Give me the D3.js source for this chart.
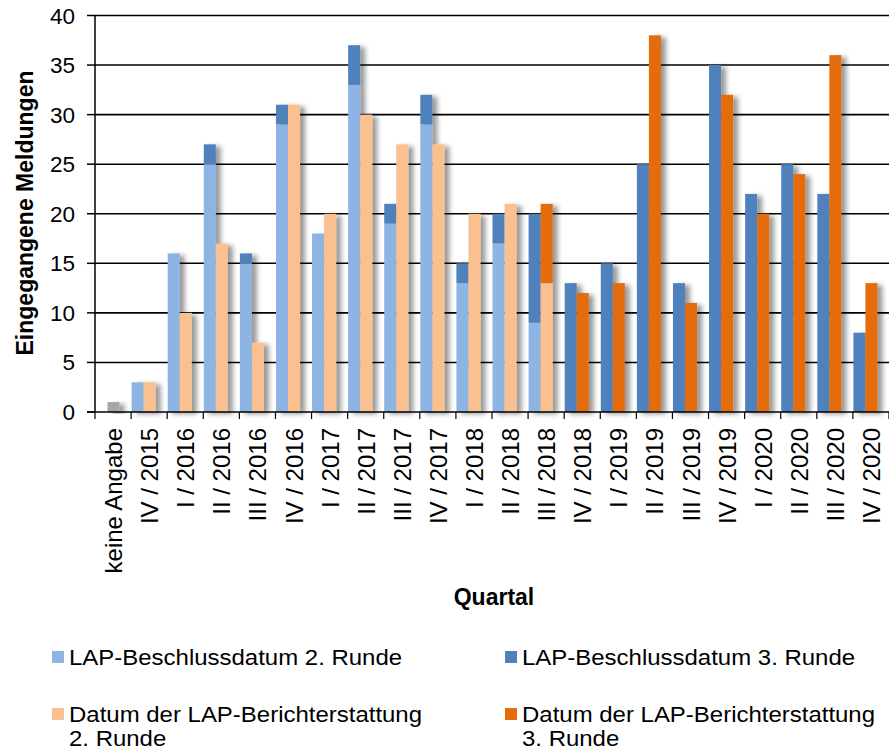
<!DOCTYPE html>
<html><head><meta charset="utf-8">
<script src="https://cdn.jsdelivr.net/npm/d3@7"></script>
<style>body{margin:0;background:#fff}svg{display:block}text{font-family:"Liberation Sans",Arial,sans-serif;fill:#000}</style>
</head><body><div id="chart"></div>
<script>
const categories = ["keine Angabe","IV / 2015","I / 2016","II / 2016","III / 2016","IV / 2016","I / 2017","II / 2017","III / 2017","IV / 2017","I / 2018","II / 2018","III / 2018","IV / 2018","I / 2019","II / 2019","III / 2019","IV / 2019","I / 2020","II / 2020","III / 2020","IV / 2020"];
const keineAngabe   = [1,0,0,0,0,0,0,0,0,0,0,0,0,0,0,0,0,0,0,0,0,0];
const beschluss2    = [0,3,16,25,15,29,18,33,19,29,13,17,9,0,0,0,0,0,0,0,0,0];
const beschluss3    = [0,0,0,2,1,2,0,4,2,3,2,3,11,13,15,25,13,35,22,25,22,8];
const bericht2      = [0,3,10,17,7,31,20,30,27,27,20,21,13,0,0,0,0,0,0,0,0,0];
const bericht3      = [0,0,0,0,0,0,0,0,0,0,0,0,8,12,13,38,11,32,20,24,36,13];
const yTicks = [0,5,10,15,20,25,30,35,40];
const seriesNames = ["LAP-Beschlussdatum 2. Runde","LAP-Beschlussdatum 3. Runde","Datum der LAP-Berichterstattung 2. Runde","Datum der LAP-Berichterstattung 3. Runde"];
const colors = {b2:"#8EB4E3", b3:"#4F81BD", r2:"#FAC090", r3:"#E46C0A", ka:"#A6A6A6"};

const W=889,H=751;
const svg=d3.select("#chart").append("svg").attr("width",W).attr("height",H);
const defs=svg.append("defs");
const f=defs.append("filter").attr("id","sh").attr("x","-20%").attr("y","-10%").attr("width","200%").attr("height","130%");
f.append("feDropShadow").attr("dx",5).attr("dy",2).attr("stdDeviation",2.5).attr("flood-color","#000").attr("flood-opacity",0.4);

const x=d3.scaleBand().domain(categories).range([95,889]).padding(0);
const y=d3.scaleLinear().domain([0,40]).range([412,15.5]);
const bw=x.bandwidth()/3;

// gridlines
svg.append("g").selectAll("line").data(yTicks.filter(d=>d>0)).join("line")
 .attr("x1",95).attr("x2",W).attr("y1",d=>y(d)).attr("y2",d=>y(d))
 .attr("stroke","#000").attr("stroke-width",1.6);

// bars
const bars=svg.append("g");
function stack(slot,parts){
  categories.forEach((c,i)=>{
    let base=0;
    const g=bars.append("g").attr("filter","url(#sh)");
    parts.forEach(([arr,col])=>{
      const v=arr[i]; if(!v) return;
      g.append("rect").attr("x",x(c)+slot*bw+0.5).attr("width",bw)
       .attr("y",y(base+v)).attr("height",y(base)-y(base+v)).attr("fill",col);
      base+=v;
    });
  });
}
stack(0,[[beschluss2,colors.b2],[beschluss3,colors.b3]]);
stack(1,[[bericht2,colors.r2],[bericht3,colors.r3],[keineAngabe,colors.ka]]);

// axes
svg.append("line").attr("x1",95).attr("x2",95).attr("y1",15).attr("y2",412).attr("stroke","#000").attr("stroke-width",1.5);
svg.append("line").attr("x1",87).attr("x2",W).attr("y1",412).attr("y2",412).attr("stroke","#000").attr("stroke-width",1.5);
const ax=svg.append("g");
ax.selectAll("line").data(d3.range(categories.length+1)).join("line")
 .attr("x1",i=>95+i*x.bandwidth()).attr("x2",i=>95+i*x.bandwidth())
 .attr("y1",412).attr("y2",419).attr("stroke","#000").attr("stroke-width",1.2);
svg.append("g").selectAll("line").data(yTicks).join("line")
 .attr("x1",87).attr("x2",95).attr("y1",d=>y(d)).attr("y2",d=>y(d)).attr("stroke","#000").attr("stroke-width",1.5);
svg.append("g").selectAll("text").data(yTicks).join("text")
 .attr("x",75).attr("y",d=>y(d)+8).attr("text-anchor","end").attr("font-size",22.5).text(d=>d);
ax.selectAll("text").data(categories).join("text")
 .attr("transform",d=>`translate(${x(d)+x.bandwidth()/2+9},428) rotate(-90)`)
 .attr("text-anchor","end").attr("font-size",24).text(d=>d);

svg.append("text").attr("transform","translate(33,213) rotate(-90)").attr("text-anchor","middle")
 .attr("font-size",23).attr("font-weight","bold").text("Eingegangene Meldungen");
svg.append("text").attr("x",494).attr("y",605).attr("text-anchor","middle")
 .attr("font-size",23).attr("font-weight","bold").text("Quartal");

// legend
const leg=[
 {x:52,y:657,col:colors.b2,lines:[seriesNames[0]]},
 {x:505,y:657,col:colors.b3,lines:[seriesNames[1]]},
 {x:52,y:714,col:colors.r2,lines:["Datum der LAP-Berichterstattung","2. Runde"]},
 {x:505,y:714,col:colors.r3,lines:["Datum der LAP-Berichterstattung","3. Runde"]}
];
leg.forEach(l=>{
  svg.append("rect").attr("x",l.x).attr("y",l.y-6).attr("width",12).attr("height",12).attr("fill",l.col);
  l.lines.forEach((t,k)=>svg.append("text")
    .attr("transform",`translate(${l.x+17},${l.y+8+k*24}) scale(1.09,1)`)
    .attr("font-size",22).text(t));
});
</script></body></html>
